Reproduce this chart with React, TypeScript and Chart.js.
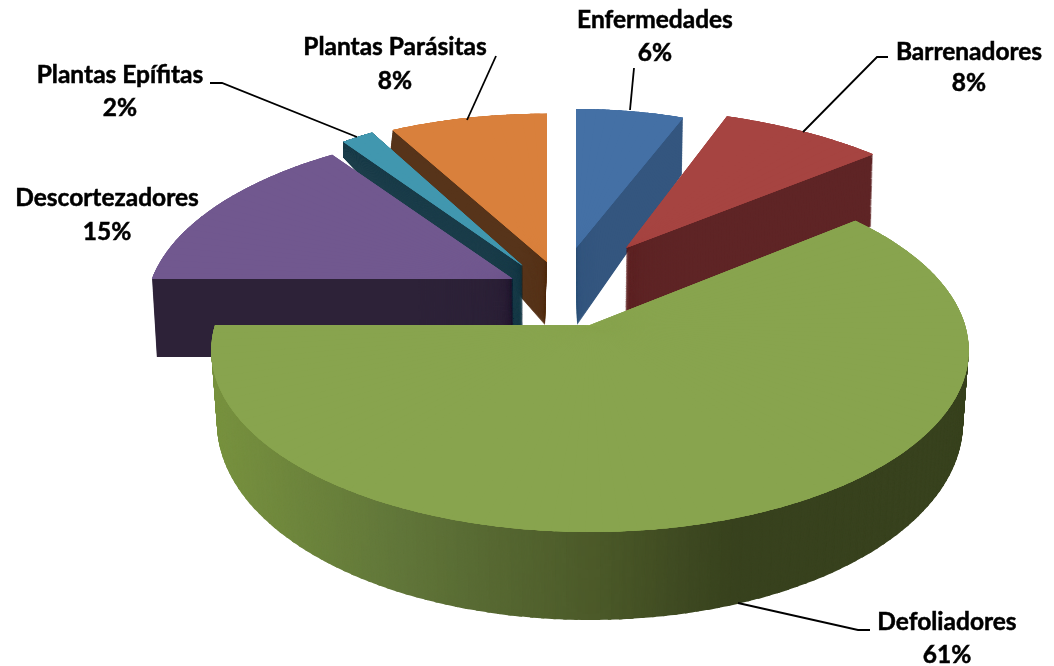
import React, { useEffect, useRef } from "react";
import { Chart, registerables } from "chart.js";

Chart.register(...registerables);
document.body.style.margin = "0";
document.body.style.background = "#ffffff";

// ---- data ----
const categories = ["Enfermedades", "Barrenadores", "Defoliadores", "Descortezadores", "Plantas Epífitas", "Plantas Parásitas"];
const shares = [6, 8, 61, 15, 2, 8];
const faceColors = ["#4470A5", "#A64441", "#88A44E", "#71588F", "#4197AF", "#D9803C"];
const wallColors = ["#34567F", "#5F2526", "#38421E", "#2D2238", "#1B3D4A", "#57341A"];

// ---- 3D view: how each exploded slice is laid on the tilted plane ----
type Pose = { ax: number; ay: number; sx: number; sy: number; sk?: number };
const RX = 375, RY = 178, PERSPECTIVE = 0.14;
const slicePoses: { top: Pose; bottom: Pose; depth: number }[] = [
  { top: { ax: 576, ay: 248, sx: 0.877, sy: 0.89 }, bottom: { ax: 577, ay: 325, sx: 0.86, sy: 1.03 }, depth: 77 },
  { top: { ax: 626, ay: 248, sx: 0.983, sy: 0.9, sk: 0.062 }, bottom: { ax: 625, ay: 318, sx: 0.98, sy: 0.875, sk: 0.062 }, depth: 70 },
  { top: { ax: 590, ay: 325, sx: 1, sy: 1 }, bottom: { ax: 590, ay: 395, sx: 0.985, sy: 1.087 }, depth: 90 },
  { top: { ax: 513, ay: 279, sx: 0.963, sy: 0.96, sk: -0.036 }, bottom: { ax: 514, ay: 357, sx: 0.953, sy: 0.96, sk: -0.036 }, depth: 78 },
  { top: { ax: 523, ay: 266, sx: 0.815, sy: 0.96, sk: 0.0676 }, bottom: { ax: 523, ay: 345, sx: 0.815, sy: 1.45, sk: 0.0676 }, depth: 320 },
  { top: { ax: 547, ay: 262, sx: 0.96, sy: 0.95 }, bottom: { ax: 545, ay: 325, sx: 0.96, sy: 1.27 }, depth: 63 },
];
const drawOrder = [5, 4, 3, 0, 1, 2];
const greenWallStops: [number, string][] = [
  [215, "#78923F"], [400, "#61763A"], [590, "#4C5A29"], [730, "#38421E"], [970, "#38421E"],
];
const FACE_STEPS = [1.5, 1.9, 2.3];

// ---- label layout ----
const labelCenters: [number, number, number][] = [
  [655, 20, 53], [969, 52, 83], [947, 622, 655], [107, 198, 232], [120, 75, 108], [395, 47, 81],
];
const leaderLines: number[][][] = [
  [[634, 68], [630, 110]],
  [[888, 57], [877, 57], [803, 132]],
  [[870, 630], [858, 630], [738, 603]],
  [],
  [[210, 83], [222, 83], [357, 137]],
  [[496, 56], [467, 120]],
];

const lerp = (a: number, b: number, k: number) => a + (b - a) * k;
const hex = (c: string) => [1, 3, 5].map((i) => parseInt(c.slice(i, i + 2), 16));
function wallAt(x: number) {
  const s = greenWallStops;
  if (x <= s[0][0]) return s[0][1];
  for (let i = 1; i < s.length; i++) {
    if (x <= s[i][0]) {
      const k = (x - s[i - 1][0]) / (s[i][0] - s[i - 1][0]);
      const p = hex(s[i - 1][1]), q = hex(s[i][1]);
      return `rgb(${p.map((v, j) => Math.round(lerp(v, q[j], k))).join(",")})`;
    }
  }
  return s[s.length - 1][1];
}

function project(v: { top: Pose; bottom: Pose }, u: number, w: number, k: number) {
  const ax = lerp(v.top.ax, v.bottom.ax, k), ay = lerp(v.top.ay, v.bottom.ay, k);
  const sx = lerp(v.top.sx, v.bottom.sx, k), sy = lerp(v.top.sy, v.bottom.sy, k);
  const sk = lerp(v.top.sk || 0, v.bottom.sk || 0, k);
  const d = 1 - PERSPECTIVE * w;
  return { x: ax + (RX * (sx * u + sk * w)) / d, y: ay + (sy * RY * w) / d };
}

function drawSlice(ctx: CanvasRenderingContext2D, arc: any, view: any, k: number, color: string | ((x: number) => string), stepDeg = 1.5) {
  const a0 = arc.startAngle, a1 = arc.endAngle;
  const n = Math.max(1, Math.ceil((a1 - a0) / ((stepDeg * Math.PI) / 180)));
  const r = arc.outerRadius;
  const apex = project(view, 0, 0, k);
  for (let i = 0; i < n; i++) {
    const a = lerp(a0, a1, i / n), b = lerp(a0, a1, (i + 1) / n);
    const pa = project(view, Math.cos(a), Math.sin(a), k);
    const pb = project(view, Math.cos(b), Math.sin(b), k);
    const e1x = r * Math.cos(a), e1y = r * Math.sin(a), e2x = r * Math.cos(b), e2y = r * Math.sin(b);
    const det = e1x * e2y - e2x * e1y;
    const dax = pa.x - apex.x, day = pa.y - apex.y, dbx = pb.x - apex.x, dby = pb.y - apex.y;
    const m11 = (dax * e2y - dbx * e1y) / det, m12 = (-dax * e2x + dbx * e1x) / det;
    const m21 = (day * e2y - dby * e1y) / det, m22 = (-day * e2x + dby * e1x) / det;
    const fill = typeof color === "string" ? color : color((pa.x + pb.x) / 2);
    const piece = Object.create(arc);
    piece.startAngle = Math.max(a0, a - 0.004);
    piece.endAngle = Math.min(a1, b + 0.004);
    piece.circumference = piece.endAngle - piece.startAngle;
    piece.options = {
      backgroundColor: fill, borderColor: fill, borderWidth: 0, borderAlign: "center",
      borderRadius: 0, offset: 0, spacing: 0, circular: true,
    };
    ctx.save();
    ctx.transform(m11, m21, m12, m22, apex.x - (m11 * arc.x + m12 * arc.y), apex.y - (m21 * arc.x + m22 * arc.y));
    piece.draw(ctx);
    ctx.restore();
  }
}

const pie3d = {
  id: "pie3d",
  beforeDatasetsDraw(chart: any) {
    const ctx: CanvasRenderingContext2D = chart.ctx;
    const arcs = chart.getDatasetMeta(0).data;
    for (const i of drawOrder) {
      const view = slicePoses[i];
      const wall = i === 2 ? wallAt : wallColors[i];
      for (let d = view.depth; d > 0; d--) drawSlice(ctx, arcs[i], view, d / view.depth, wall);
      for (const step of FACE_STEPS) drawSlice(ctx, arcs[i], view, 0, arcs[i].options.backgroundColor, step);
    }
    return false;
  },
  afterDraw(chart: any) {
    const ctx: CanvasRenderingContext2D = chart.ctx;
    ctx.save();
    ctx.strokeStyle = "#000";
    ctx.lineWidth = 1.8;
    for (const line of leaderLines) {
      if (!line.length) continue;
      ctx.beginPath();
      line.forEach(([x, y], j) => (j ? ctx.lineTo(x, y) : ctx.moveTo(x, y)));
      ctx.stroke();
    }
    ctx.fillStyle = "#000";
    ctx.lineWidth = 0.5;
    ctx.font = "bold 24.5px Lato";
    ctx.textAlign = "center";
    ctx.textBaseline = "middle";
    categories.forEach((name, i) => {
      const [x, y1, y2] = labelCenters[i];
      ctx.fillText(name, x, y1);
      ctx.strokeText(name, x, y1);
      ctx.fillText(`${shares[i]}%`, x, y2);
      ctx.strokeText(`${shares[i]}%`, x, y2);
    });
    ctx.restore();
  },
};

export default function App() {
  const ref = useRef<HTMLCanvasElement>(null);
  useEffect(() => {
    const chart = new Chart(ref.current!, {
      type: "pie",
      data: { labels: categories, datasets: [{ data: shares, backgroundColor: faceColors, borderWidth: 0 }] },
      options: {
        animation: false,
        responsive: false,
        devicePixelRatio: 1,
        plugins: { legend: { display: false }, tooltip: { enabled: false } },
      },
      plugins: [pie3d],
    } as any);
    return () => chart.destroy();
  }, []);
  return <canvas ref={ref} width={1054} height={666} style={{ display: "block" }} />;
}
